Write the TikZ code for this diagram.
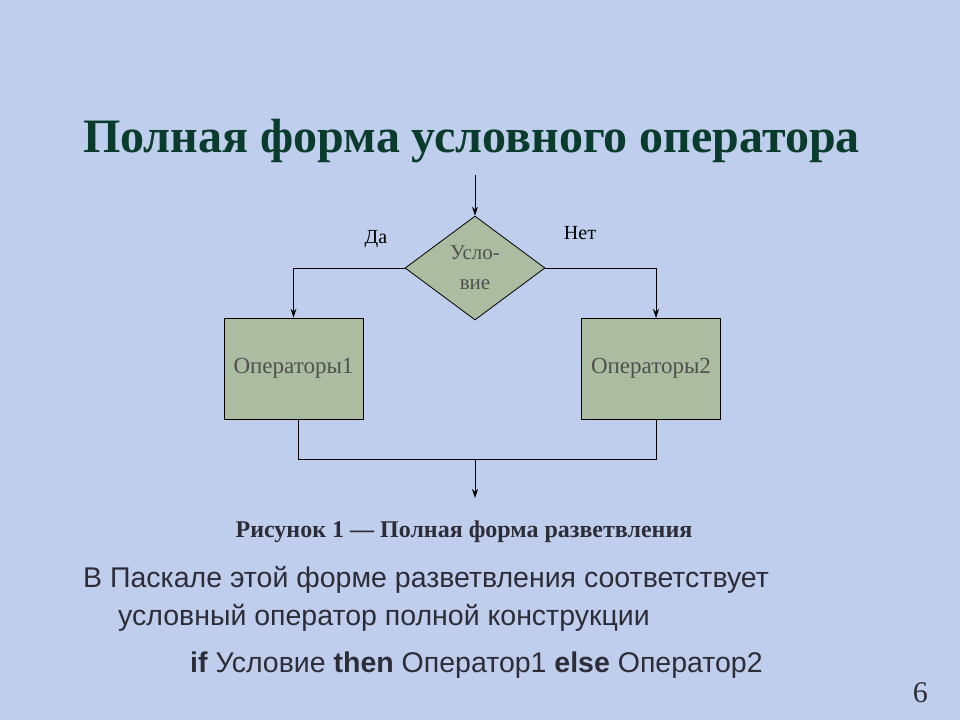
\documentclass[tikz,border=0pt]{standalone}
\usepackage{fontspec}
\setmainfont{Liberation Serif}
\newfontfamily\arialf{Liberation Sans}
\usetikzlibrary{shapes.geometric,arrows.meta}
\definecolor{bgc}{RGB}{192,206,238}
\definecolor{titc}{RGB}{10,60,45}
\definecolor{boxc}{RGB}{172,188,160}
\definecolor{txtc}{RGB}{45,45,55}
\definecolor{grt}{RGB}{80,80,80}
\tikzset{
  blk/.style={draw=black,line width=0.8pt,fill=boxc,minimum width=139pt,minimum height=101pt,inner sep=0pt,font=\fontsize{23}{26}\selectfont,text=grt},
  cond/.style={diamond,draw=black,line width=0.8pt,fill=boxc,minimum width=140pt,minimum height=104pt,inner sep=0pt,aspect=1.35,font=\fontsize{21}{30}\selectfont,text=grt,align=center},
  ln/.style={draw=black,line width=0.8pt},
  arr/.style={ln,-{Stealth[length=9pt,width=6pt]}},
  lbl/.style={font=\fontsize{20}{22}\selectfont,inner sep=0pt},
  body/.style={anchor=base west,font=\arialf\fontsize{28.5}{32}\selectfont,text=txtc,inner sep=0pt}
}
\begin{document}
\begin{tikzpicture}[x=1pt,y=1pt]
\fill[bgc] (0,0) rectangle (960,-720);
\useasboundingbox (0,0) rectangle (960,-720);
\node[anchor=base west,inner sep=0pt,text=titc,font=\bfseries\fontsize{48}{52}\selectfont] (title) at (83,-152) {Полная форма условного оператора};
\coordinate (top) at (475,-175);
\node[cond] (c) at (475,-268) {Усло-\\вие};
\node[blk] (b1) at (293.5,-368.5) {Операторы1};
\node[blk] (b2) at (651,-368.5) {Операторы2};
\coordinate (r2) at (656,-318);
\draw[arr] (top) -- (c.north);
\draw[arr] (c.west) -| (b1.north);
\draw[arr] (c.east) -| (r2);
\coordinate (j1) at (298,-459);
\coordinate (j2) at (656,-459);
\coordinate (jm) at (475,-459);
\coordinate (bot) at (475,-498);
\draw[ln] (b1.south -| j1) -- (j1) -- (j2) -- (b2.south -| j2);
\draw[arr] (jm) -- (bot);
\node[lbl] (da) at (376,-239) {Да};
\node[lbl] (net) at (580,-233) {Нет};
\node[font=\bfseries\fontsize{24}{26}\selectfont,text=txtc,inner sep=0pt] (cap) at (464,-532) {Рисунок 1 — Полная форма разветвления};
\node[body] (l1) at (83,-587) {В Паскале этой форме разветвления соответствует};
\node[body] (l2) at (118,-625) {условный оператор полной конструкции};
\node[body] (l3) at (190,-672) {\textbf{if} Условие \textbf{then} Оператор1 \textbf{else} Оператор2};
\node[anchor=base east,inner sep=0pt,font=\fontsize{30}{32}\selectfont,text=txtc] (num) at (928,-702) {6};
\end{tikzpicture}
\end{document}
